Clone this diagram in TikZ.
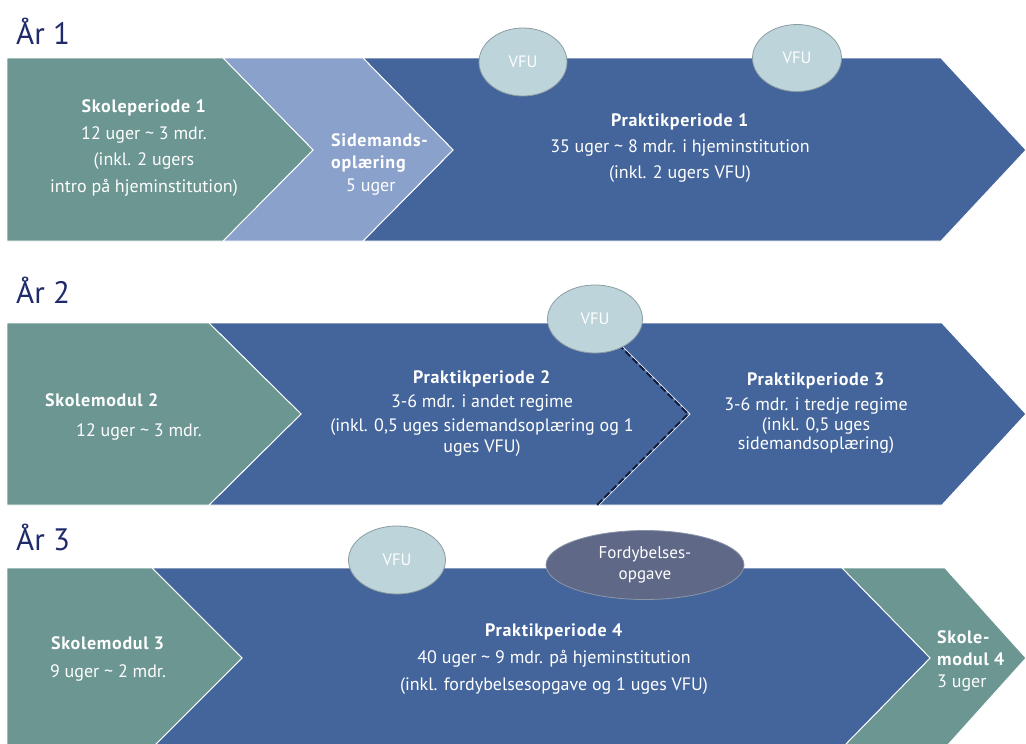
\documentclass[tikz,border=0pt]{standalone}
\usepackage{fontspec}
\setmainfont{PT Sans}[BoldFeatures={LetterSpace=4}]
\usetikzlibrary{shapes.geometric}
\definecolor{cgreen}{HTML}{6B9692}
\definecolor{clight}{HTML}{8AA2CB}
\definecolor{cdark}{HTML}{44659B}
\definecolor{cvfu}{HTML}{BDD4DA}
\definecolor{cvfub}{HTML}{8C9DA2}
\definecolor{cford}{HTML}{5F6887}
\definecolor{cfordb}{HTML}{8A96A8}
\definecolor{ctitle}{HTML}{1F2A6B}
\definecolor{cdash}{HTML}{141C3C}
\tikzset{
  chev/.style={draw=white, line width=0.9pt},
  lbl/.style={text=white, inner sep=0pt, font=\fontsize{18}{26}\selectfont, align=center},
  yeartitle/.style={text=ctitle, anchor=base west, inner sep=0pt, font=\fontsize{31}{36}\selectfont},
  vfu/.style={ellipse, fill=cvfu, draw=cvfub, line width=0.8pt, text=white, inner sep=0pt, font=\fontsize{16.5}{18}\selectfont},
}
\begin{document}
\begin{tikzpicture}[x=1pt,y=-1pt]
\useasboundingbox (0,0) rectangle (1026,744);
% Year 1
\node[yeartitle] (t1) at (16,44) {År 1};
\draw[chev, fill=cdark] (363,58) -- (941,58) -- (1026,150) -- (941,241) -- (363,241) -- (453,150) -- cycle;
\draw[chev, fill=clight] (223,58) -- (363,58) -- (453,150) -- (363,241) -- (223,241) -- (313,150) -- cycle;
\draw[chev, fill=cgreen] (7,58) -- (223,58) -- (313,150) -- (223,241) -- (7,241) -- cycle;
\node[lbl, font=\fontsize{18}{26.5}\selectfont] (sp1) at (144,148) {\textbf{Skoleperiode 1}\\12 uger \textasciitilde{} 3 mdr.\\(inkl. 2 ugers\\intro på hjeminstitution)};
\node[lbl, align=left, anchor=west, font=\fontsize{18}{22.5}\selectfont] (sm) at (331,164) {\textbf{Sidemands-}\\\textbf{oplæring}\\\hspace*{15pt}5 uger};
\node[lbl, font=\fontsize{18}{26}\selectfont] (pp1) at (680,148) {\textbf{Praktikperiode 1}\\35 uger \textasciitilde{} 8 mdr. i hjeminstitution\\(inkl. 2 ugers VFU)};
\node[vfu, minimum width=88pt, minimum height=68pt] (v1) at (523,62) {VFU};
\node[vfu, minimum width=89pt, minimum height=67pt] (v2) at (797,58) {VFU};
% Year 2
\node[yeartitle] (t2) at (16,303) {År 2};
\draw[chev, fill=cdark] (597,323) -- (942,323) -- (1026,414) -- (942,505) -- (597,505) -- (688,414) -- cycle;
\draw[chev, fill=cdark] (209,323) -- (597,323) -- (688,414) -- (597,505) -- (209,505) -- (301,414) -- cycle;
\draw[cdark, line width=2pt] (597,323) -- (688,414) -- (597,505);
\draw[white!85!cdark, line width=0.8pt] (599,323) -- (690,414) -- (599,505);
\draw[cdash, line width=2pt, dash pattern=on 7pt off 3pt] (597,323) -- (688,414) -- (597,505);
\draw[chev, fill=cgreen] (7,323) -- (209,323) -- (301,414) -- (209,505) -- (7,505) -- cycle;
\node[lbl, align=left, anchor=west, font=\fontsize{18}{30}\selectfont] (sm2) at (45,417) {\textbf{Skolemodul 2}\\\hspace*{31pt}12 uger \textasciitilde{} 3 mdr.};
\node[lbl, font=\fontsize{18}{24}\selectfont] (pp2) at (482,414) {\textbf{Praktikperiode 2}\\3-6 mdr. i andet regime\\(inkl. 0,5 uges sidemandsoplæring og 1\\[-3pt]uges VFU)};
\node[lbl, font=\fontsize{18}{19.5}\selectfont] (pp3) at (816,413) {\textbf{Praktikperiode 3}\\[6pt]3-6 mdr. i tredje regime\\(inkl. 0,5 uges\\sidemandsoplæring)};
\node[vfu, minimum width=95pt, minimum height=68pt] (v3) at (595,319) {VFU};
% Year 3
\node[yeartitle] (t3) at (16,550) {År 3};
\draw[chev, fill=cgreen] (842,568) -- (945,568) -- (1026,658) -- (945,748) -- (842,748) -- (930,658) -- cycle;
\draw[chev, fill=cdark] (152,568) -- (842,568) -- (930,658) -- (842,748) -- (152,748) -- (242,658) -- cycle;
\draw[chev, fill=cgreen] (7,568) -- (152,568) -- (242,658) -- (152,748) -- (7,748) -- cycle;
\node[lbl, font=\fontsize{18}{28}\selectfont] (sm3) at (108,659) {\textbf{Skolemodul 3}\\9 uger \textasciitilde{} 2 mdr.};
\node[lbl, font=\fontsize{18}{27}\selectfont] (pp4) at (554,659) {\textbf{Praktikperiode 4}\\40 uger \textasciitilde{} 9 mdr. på hjeminstitution\\(inkl. fordybelsesopgave og 1 uges VFU)};
\node[lbl, align=left, anchor=west, font=\fontsize{18}{22}\selectfont] (sm4) at (937,661) {\textbf{Skole-}\\\textbf{modul 4}\\3 uger};
\node[vfu, minimum width=97pt, minimum height=68pt] (v4) at (397,560) {VFU};
\node[vfu, fill=cford, draw=cfordb, minimum width=198pt, minimum height=69pt, align=center, font=\fontsize{17}{21}\selectfont] (fo) at (645,565) {Fordybelses-\\opgave};
\end{tikzpicture}
\end{document}
